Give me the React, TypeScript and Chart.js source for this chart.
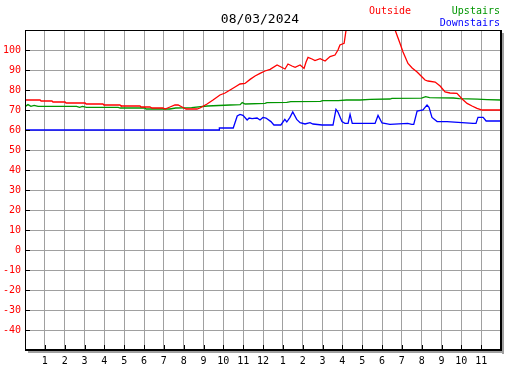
import React, { useEffect, useRef } from "react";
import { Chart, registerables } from "chart.js";

Chart.register(...registerables);

const titleText = "08/03/2024";

const outsideHours = [0, 0.76, 0.81, 1.36, 1.41, 2.02, 2.07, 3.03, 3.08, 3.93, 3.98, 4.79, 4.84, 5.8, 5.85, 6.3, 6.4, 6.96, 7.06, 7.31, 7.56, 7.72, 7.92, 8.12, 8.67, 8.82, 9.18, 9.48, 9.83, 10.09, 10.34, 10.59, 10.84, 11.09, 11.35, 11.6, 11.85, 12.1, 12.36, 12.71, 12.91, 13.11, 13.26, 13.46, 13.62, 13.87, 14.07, 14.17, 14.27, 14.47, 14.62, 14.88, 15.13, 15.38, 15.63, 15.78, 15.88, 16.09, 16.19, 16.39, 16.89, 17.5, 18.15, 18.51, 18.66, 18.91, 19.06, 19.31, 19.52, 19.77, 19.97, 20.17, 20.32, 20.68, 20.93, 21.18, 21.43, 21.78, 22.04, 22.29, 22.54, 22.79, 23.05, 23.45, 24];
const outsideTemps = [75, 75, 74.5, 74.5, 74, 74, 73.5, 73.5, 73, 73, 72.5, 72.5, 72, 72, 71.5, 71.5, 71, 71, 70.5, 71.5, 72.5, 72.5, 71.5, 70.5, 70.5, 71, 73, 75, 77.5, 78.5, 80, 81.5, 83, 83.3, 85.3, 87, 88.3, 89.5, 90.3, 92.5, 91.5, 90.5, 93, 92, 91.3, 92.5, 90.8, 94, 96.3, 95.5, 94.7, 95.7, 94.5, 96.7, 97.5, 100, 102.5, 103.3, 110, 118, 124, 126, 122, 114, 110, 103.3, 99, 93.3, 91, 89, 87, 85, 84.5, 84, 82, 79, 78.5, 78.3, 75.5, 73.3, 72, 70.8, 70, 70, 70];

const upstairsHours = [0, 0.15, 0.3, 0.46, 0.66, 2.6, 2.75, 2.9, 3.1, 4.7, 4.8, 6.05, 6.1, 7.3, 7.6, 8.4, 9.2, 10.34, 10.85, 10.95, 11.1, 12.1, 12.2, 13.2, 13.4, 14.9, 15.0, 15.8, 16.2, 16.9, 17.4, 18.4, 18.5, 20.0, 20.2, 20.4, 21.6, 21.9, 22.8, 23.3, 24];
const upstairsTemps = [71.7, 72.7, 71.8, 72.3, 71.8, 71.8, 71.3, 71.8, 71.3, 71.3, 71, 71, 70.5, 70.5, 71, 71.2, 72, 72.5, 72.7, 73.7, 73, 73.3, 73.7, 73.8, 74.2, 74.3, 74.7, 74.7, 75, 75, 75.3, 75.5, 75.8, 75.9, 76.7, 76.2, 76, 75.7, 75.4, 75.2, 75];

const downstairsHours = [0, 9.79, 9.8, 10.5, 10.7, 10.84, 10.99, 11.2, 11.3, 11.45, 11.7, 11.85, 12.0, 12.15, 12.4, 12.55, 12.9, 13.1, 13.2, 13.36, 13.5, 13.7, 13.87, 14.12, 14.37, 14.52, 14.98, 15.53, 15.68, 15.78, 15.98, 16.13, 16.29, 16.39, 16.5, 17.65, 17.8, 18.0, 18.4, 19.3, 19.5, 19.6, 19.77, 20.07, 20.17, 20.27, 20.37, 20.52, 20.78, 21.28, 22.59, 22.74, 22.84, 23.1, 23.25, 24];
const downstairsTemps = [60, 60, 61, 61, 67, 67.8, 67.3, 65, 66, 65.7, 66, 65, 66.3, 66, 64.2, 62.5, 62.5, 65.3, 64, 66.3, 69, 65.3, 63.7, 63, 63.7, 63, 62.5, 62.5, 70.3, 69, 64.2, 63.3, 63.3, 67.8, 63.3, 63.3, 67.3, 63.5, 62.8, 63.3, 62.8, 62.8, 69.5, 70, 71.3, 72.5, 71.3, 66.3, 64.2, 64.2, 63.3, 63.3, 66.3, 66.3, 64.5, 64.5];

const hourLabels = ["", "1", "2", "3", "4", "5", "6", "7", "8", "9", "10", "11", "12", "1", "2", "3", "4", "5", "6", "7", "8", "9", "10", "11", ""];

const RED = "#ff0000";
const GREEN = "#009600";
const BLUE = "#0000ff";
const GRID = "#a0a0a0";
const FONT = "'DejaVu Sans Mono', monospace";

const toPoints = (xs: number[], ys: number[]) => xs.map((x, i) => ({ x, y: ys[i] }));

const framePlugin = {
  id: "frame",
  afterDraw(chart: any) {
    const { ctx, chartArea: a, scales } = chart;
    ctx.save();
    ctx.fillStyle = "#a0a0a0";
    ctx.fillRect(a.right + 1, a.top + 3, 2, a.bottom - a.top + 1);
    ctx.fillRect(a.left + 3, a.bottom + 1, a.right - a.left, 2);
    ctx.strokeStyle = "#000";
    ctx.lineWidth = 1;
    ctx.strokeRect(a.left + 0.5, a.top + 0.5, a.right - a.left, a.bottom - a.top);
    ctx.beginPath();
    ctx.moveTo(a.right - 0.5, a.top);
    ctx.lineTo(a.right - 0.5, a.bottom + 1);
    ctx.moveTo(a.left, a.bottom - 0.5);
    ctx.lineTo(a.right + 1, a.bottom - 0.5);
    ctx.stroke();
    ctx.beginPath();
    for (let v = -40; v <= 100; v += 10) {
      const y = Math.round(scales.y.getPixelForValue(v)) + 0.5;
      ctx.moveTo(a.left, y);
      ctx.lineTo(a.left + 5, y);
    }
    for (let h = 1; h <= 23; h++) {
      const x = Math.round(scales.x.getPixelForValue(h)) + 0.5;
      ctx.moveTo(x, a.bottom);
      ctx.lineTo(x, a.bottom - 5);
    }
    ctx.stroke();
    ctx.restore();
  },
};

export default function App() {
  const ref = useRef<HTMLCanvasElement>(null);
  useEffect(() => {
    if (!ref.current) return;
    const chart = new Chart(ref.current, {
      type: "line",
      data: {
        datasets: [
          { label: "Outside", data: toPoints(outsideHours, outsideTemps), borderColor: RED, borderWidth: 1.3, pointRadius: 0, tension: 0 },
          { label: "Upstairs", data: toPoints(upstairsHours, upstairsTemps), borderColor: GREEN, borderWidth: 1.3, pointRadius: 0, tension: 0 },
          { label: "Downstairs", data: toPoints(downstairsHours, downstairsTemps), borderColor: BLUE, borderWidth: 1.3, pointRadius: 0, tension: 0 },
        ],
      },
      options: {
        animation: false,
        responsive: false,
        layout: { padding: { top: 30, right: 26, left: 0, bottom: 0 } },
        plugins: { legend: { display: false }, title: { display: false }, tooltip: { enabled: false } },
        scales: {
          x: {
            type: "linear",
            min: 0,
            max: 24,
            afterFit: (s: any) => { s.height = 20; },
            grid: { color: GRID, lineWidth: 1, drawTicks: false },
            border: { display: false },
            ticks: {
              stepSize: 1,
              autoSkip: false,
              maxRotation: 0,
              padding: 5,
              color: "#000",
              font: { family: FONT, size: 10 },
              callback: (v: any) => hourLabels[Math.round(Number(v))] ?? "",
            },
          },
          y: {
            min: -50,
            max: 110,
            afterFit: (s: any) => { s.width = 25; },
            grid: { color: GRID, lineWidth: 1, drawTicks: false },
            border: { display: false },
            ticks: {
              stepSize: 10,
              padding: 4,
              color: RED,
              font: { family: FONT, size: 10 },
              callback: (v: any) => (v === -50 || v === 110 ? "" : String(v)),
            },
          },
        },
      },
      plugins: [framePlugin],
    });
    return () => chart.destroy();
  }, []);

  const txt = (extra: React.CSSProperties): React.CSSProperties => ({
    position: "absolute",
    fontFamily: FONT,
    fontSize: 10,
    lineHeight: "12px",
    whiteSpace: "nowrap",
    ...extra,
  });

  return (
    <div style={{ position: "fixed", left: 0, top: 0, width: 527, height: 370, background: "#fff" }}>
      <canvas ref={ref} width={527} height={370} style={{ width: 527, height: 370, display: "block" }} />
      <div style={txt({ left: 0, width: 520, top: 11, textAlign: "center", fontSize: 13, lineHeight: "15px", color: "#000" })}>{titleText}</div>
      <div style={txt({ left: 369, top: 5, color: RED })}>Outside</div>
      <div style={txt({ right: 27, top: 5, color: GREEN })}>Upstairs</div>
      <div style={txt({ right: 27, top: 17, color: BLUE })}>Downstairs</div>
    </div>
  );
}
